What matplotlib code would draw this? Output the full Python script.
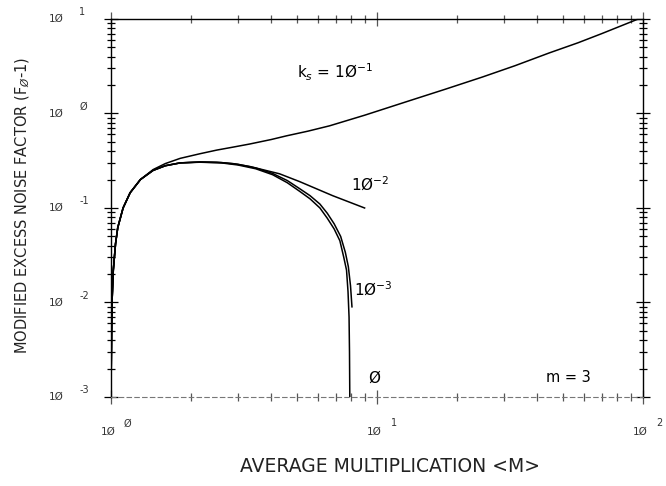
import numpy as np
import matplotlib.pyplot as plt
from matplotlib.ticker import LogLocator, NullFormatter

# Data (average multiplication M vs. F_e - 1)
m_k1 = [1.0005, 1.002, 1.005, 1.01, 1.02, 1.04, 1.06, 1.11, 1.18, 1.29, 1.44, 1.6, 1.82,
        2.16, 2.5, 2.87, 3.32, 4.0, 4.57, 5.5, 6.63, 9.0, 13.2, 18.0, 24.9, 33.0, 44.4, 57.0,
        70.0, 96.0]
f_k1 = [0.001, 0.002, 0.005, 0.011, 0.022, 0.042, 0.062, 0.10, 0.145, 0.20, 0.255, 0.295, 0.335,
        0.375, 0.41, 0.44, 0.475, 0.53, 0.58, 0.65, 0.74, 0.96, 1.36, 1.8, 2.43, 3.2, 4.37, 5.6,
        7.0, 10.0]

m_k2 = [1.0005, 1.002, 1.005, 1.01, 1.02, 1.04, 1.06, 1.11, 1.18, 1.29, 1.44, 1.6, 1.82,
        2.16, 2.5, 2.87, 3.32, 4.3, 5.12, 6.81, 8.98]
f_k2 = [0.001, 0.002, 0.005, 0.011, 0.022, 0.042, 0.062, 0.10, 0.145, 0.20, 0.25, 0.28, 0.30,
        0.307, 0.305, 0.295, 0.275, 0.23, 0.19, 0.135, 0.10]

m_k3 = [1.0005, 1.002, 1.005, 1.01, 1.02, 1.04, 1.06, 1.11, 1.18, 1.29, 1.44, 1.6, 1.82,
        2.16, 2.6, 3.0, 3.5, 4.05, 4.6, 5.12, 5.6, 6.1, 6.5, 6.9, 7.3, 7.6, 7.8, 7.95, 8.05]
f_k3 = [0.001, 0.002, 0.005, 0.011, 0.022, 0.042, 0.062, 0.10, 0.145, 0.20, 0.25, 0.28, 0.30,
        0.306, 0.302, 0.29, 0.265, 0.232, 0.195, 0.16, 0.135, 0.11, 0.088, 0.068, 0.05, 0.034,
        0.024, 0.015, 0.009]

m_k0 = [1.0005, 1.002, 1.005, 1.01, 1.02, 1.04, 1.06, 1.11, 1.18, 1.29, 1.44, 1.6, 1.82,
        2.16, 2.6, 3.0, 3.5, 4.05, 4.6, 5.12, 5.6, 6.1, 6.5, 6.9, 7.25, 7.5, 7.68, 7.78, 7.85,
        7.88, 7.9]
f_k0 = [0.001, 0.002, 0.005, 0.011, 0.022, 0.042, 0.062, 0.10, 0.145, 0.20, 0.25, 0.28, 0.30,
        0.305, 0.30, 0.285, 0.26, 0.225, 0.185, 0.15, 0.125, 0.10, 0.078, 0.06, 0.045, 0.03,
        0.022, 0.013, 0.007, 0.003, 0.001]

x_ticks = [1, 10, 100]
x_exps = ["Ø", "1", "2"]
y_ticks = [1e-3, 1e-2, 1e-1, 1, 10]
y_exps = ["-3", "-2", "-1", "Ø", "1"]

fig = plt.figure(figsize=(6.66, 4.86), dpi=100)
ax = fig.add_axes([0.1667, 0.1831, 0.7988, 0.7779])

for m, f in [(m_k1, f_k1), (m_k2, f_k2), (m_k3, f_k3), (m_k0, f_k0)]:
    ax.plot(m, f, color='black', lw=1.1)

ax.set_xscale('log')
ax.set_yscale('log')
ax.set_xlim(1, 100)
ax.set_ylim(1e-3, 10)

ax.xaxis.set_major_locator(LogLocator(base=10, numticks=5))
ax.xaxis.set_minor_locator(LogLocator(base=10, subs=np.arange(2, 10), numticks=20))
ax.yaxis.set_major_locator(LogLocator(base=10, numticks=10))
ax.yaxis.set_minor_locator(LogLocator(base=10, subs=np.arange(2, 10), numticks=20))
for axis in (ax.xaxis, ax.yaxis):
    axis.set_major_formatter(NullFormatter())
    axis.set_minor_formatter(NullFormatter())
ax.tick_params(which='both', direction='inout', top=True, right=True, color='black')
ax.tick_params(which='major', length=10, width=0.9)
ax.tick_params(which='minor', length=6, width=0.9)
ax.tick_params(axis='x', which='both', colors='#555555')

for s in ['left', 'right', 'top']:
    ax.spines[s].set_linewidth(1.0)
ax.spines['bottom'].set_linestyle((0, (4, 3)))
ax.spines['bottom'].set_color('#777777')
ax.spines['bottom'].set_linewidth(0.8)

# tick labels drawn by hand, plotter style
for v, e in zip(y_ticks, y_exps):
    ax.annotate("1Ø", (1, v), xytext=(-45, 0), textcoords='offset points',
                ha='left', va='center', fontsize=7.5, color='#333333')
    ax.annotate(e, (1, v), xytext=(-23, 5), textcoords='offset points',
                ha='left', va='center', fontsize=7, color='#333333')
for v, e in zip(x_ticks, x_exps):
    ax.annotate("1Ø", (v, 1e-3), xytext=(-2, -25), textcoords='offset points',
                ha='center', va='center', fontsize=7.5, color='#333333')
    ax.annotate(e, (v, 1e-3), xytext=(12, -19), textcoords='offset points',
                ha='center', va='center', fontsize=7, color='#333333')

ax.text(5.0, 2.75, "k$_s$ = 1Ø$^{-1}$", fontsize=11, va='center', ha='left')
ax.text(8.0, 0.175, "1Ø$^{-2}$", fontsize=11, va='center', ha='left')
ax.text(8.2, 0.0136, "1Ø$^{-3}$", fontsize=11, va='center', ha='left')
ax.text(9.3, 0.0016, "Ø", fontsize=11, va='center', ha='left')
ax.text(43, 0.0016, "m = 3", fontsize=10.5, va='center', ha='left')

fig.text(0.585, 0.04, "AVERAGE MULTIPLICATION <M>", ha='center', va='center',
         fontsize=13.5, color='#222222')
fig.text(0.035, 0.578, "MODIFIED EXCESS NOISE FACTOR (F$_Ø$-1)", ha='center', va='center',
         rotation=90, fontsize=10.5, color='#222222')

fig.savefig("out.png", dpi=100)
